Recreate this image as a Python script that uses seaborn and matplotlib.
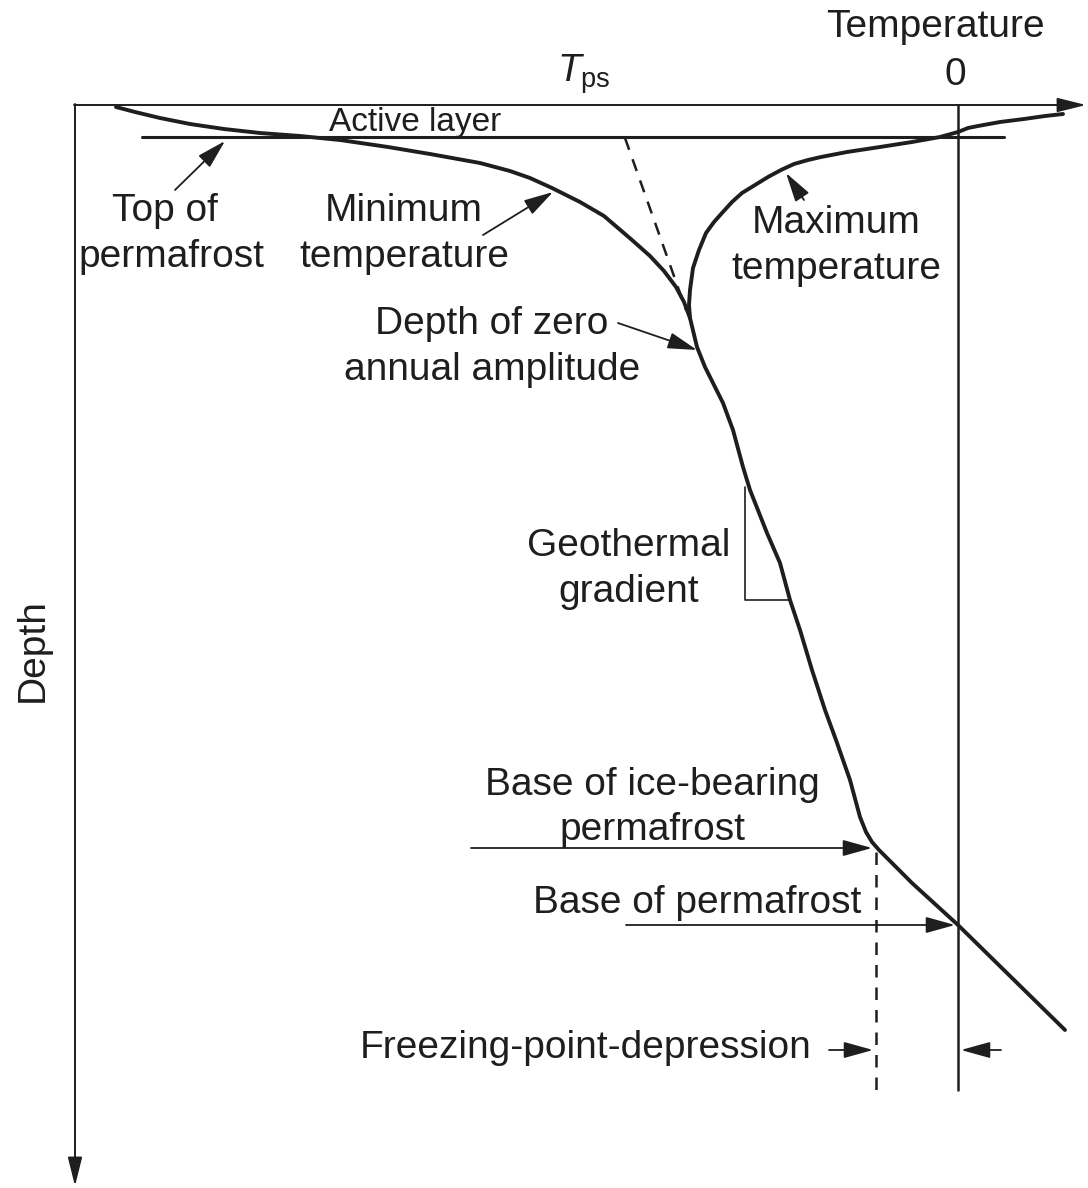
import matplotlib
matplotlib.use("Agg")
import matplotlib.pyplot as plt
import seaborn as sns

# diagram units: temperature grows to the right, depth grows downward
# minimum-temperature envelope (trumpet, left branch)
min_temp = [116, 135, 160, 190, 224, 260, 300, 340, 388, 430, 480, 510, 530, 552, 566,
            580, 592, 604, 618, 632, 650, 664, 676, 684, 690]
min_depth = [107, 112, 118, 124, 129, 133, 136, 140, 147, 154, 163, 171, 178, 188, 195,
             202, 209, 216, 228, 240, 256, 271, 287, 302, 318]

# maximum-temperature envelope (right branch)
max_temp = [690, 689, 690, 693, 699, 706, 714, 722, 732, 742, 755, 768, 781, 794, 808,
            821, 847, 880, 912, 940, 958, 968, 978, 1000, 1024, 1045, 1063]
max_depth = [318, 305, 290, 268, 250, 233, 222, 213, 202, 193, 185, 177, 170, 164, 160,
             157, 152, 147, 142, 137, 132, 128, 126, 122, 119, 116, 114]

# mean profile below depth of zero annual amplitude
deep_temp = [690, 697, 705, 714, 723, 733, 743, 750, 767, 780, 790, 800, 812, 825, 836,
             850, 860, 866, 872, 879, 912, 958, 1065]
deep_depth = [318, 347, 367, 385, 403, 430, 467, 490, 533, 563, 600, 630, 670, 710, 740,
              780, 817, 832, 842, 850, 883, 925, 1030]

# reference levels
zero_temp = 958
tps_temp = [625, 686]
tps_depth = [138, 310]
active_depth = 137
active_span = [142, 1004]
ice_base_temp = 876
gradient_x = [745, 745, 789]
gradient_y = [487, 600, 600]

ink = "#1e1e1e"

sns.set_theme(style="white")
plt.rcParams['font.family'] = ['Liberation Sans', 'DejaVu Sans']
plt.rcParams['mathtext.fontset'] = 'custom'
plt.rcParams['mathtext.it'] = 'Liberation Sans:italic'
plt.rcParams['mathtext.rm'] = 'Liberation Sans'

fig = plt.figure(figsize=(10.88, 11.88), dpi=100)
ax = fig.add_axes([0, 0, 1, 1])
ax.set_xlim(0, 1088)
ax.set_ylim(1188, 0)
ax.axis('off')

# temperature curves
for t, d in [(min_temp, min_depth), (max_temp, max_depth), (deep_temp, deep_depth)]:
    sns.lineplot(x=t, y=d, sort=False, estimator=None, color=ink, lw=2.8, ax=ax)
for line in ax.get_lines():
    line.set_solid_joinstyle('round')
    line.set_solid_capstyle('round')

# axes with arrows
ax_arrow = dict(arrowstyle='-|>,head_length=0.8,head_width=0.2', lw=1.4, color=ink,
                mutation_scale=22, shrinkA=0, shrinkB=0)
ax.annotate('', xy=(1086, 105), xytext=(74, 105), arrowprops=ax_arrow, annotation_clip=False)
ax.annotate('', xy=(75, 1186), xytext=(75, 104), arrowprops=ax_arrow, annotation_clip=False)

# reference lines
ax.plot(active_span, [active_depth, active_depth], color=ink, lw=2.2)
ax.plot([zero_temp, zero_temp], [105, 1090], color=ink, lw=1.8)
ax.plot(tps_temp, tps_depth, color=ink, lw=1.8, dashes=(5, 4))
ax.plot([ice_base_temp, ice_base_temp], [852, 1090], color=ink, lw=1.8, dashes=(5, 4))
ax.plot(gradient_x, gradient_y, color=ink, lw=1.2)

# labels
fs = 28
lines = [
    ("Temperature", 935, 37), ("0", 955, 85),
    ("Top of", 165, 221), ("permafrost", 171, 267),
    ("Minimum", 404, 221), ("temperature", 404, 267),
    ("Maximum", 836, 233), ("temperature", 836, 279),
    ("Depth of zero", 492, 334), ("annual amplitude", 492, 380),
    ("Geothermal", 629, 556), ("gradient", 629, 602),
    ("Base of ice-bearing", 652, 795), ("permafrost", 652, 840),
    ("Base of permafrost", 697, 913),
    ("Freezing-point-depression", 586, 1058),
]
for s, x, y in lines:
    ax.text(x, y, s, ha='center', va='baseline', fontsize=fs, color=ink)

ax.text(415, 131, "Active layer", ha='center', va='baseline', fontsize=24, color=ink)
ax.text(584, 82, r"$T_{\mathrm{ps}}$", ha='center', va='baseline', fontsize=fs, color=ink)
ax.text(33, 650, "Depth", ha='center', va='center', rotation=90, fontsize=fs, color=ink)

# pointer arrows
ptr = dict(arrowstyle='-|>,head_length=0.9,head_width=0.25', lw=1.3, color=ink,
           mutation_scale=20, shrinkA=0, shrinkB=0)
pointers = [
    ((225, 141), (175, 190)),
    ((553, 192), (483, 235)),
    ((786, 173), (804, 200)),
    ((697, 350), (618, 323)),
    ((872, 848), (471, 848)),
    ((955, 925), (626, 925)),
    ((873, 1050), (829, 1050)),
    ((961, 1050), (1001, 1050)),
]
for tip, tail in pointers:
    ax.annotate('', xy=tip, xytext=tail, arrowprops=ptr)

fig.savefig("out.png", dpi=100)
